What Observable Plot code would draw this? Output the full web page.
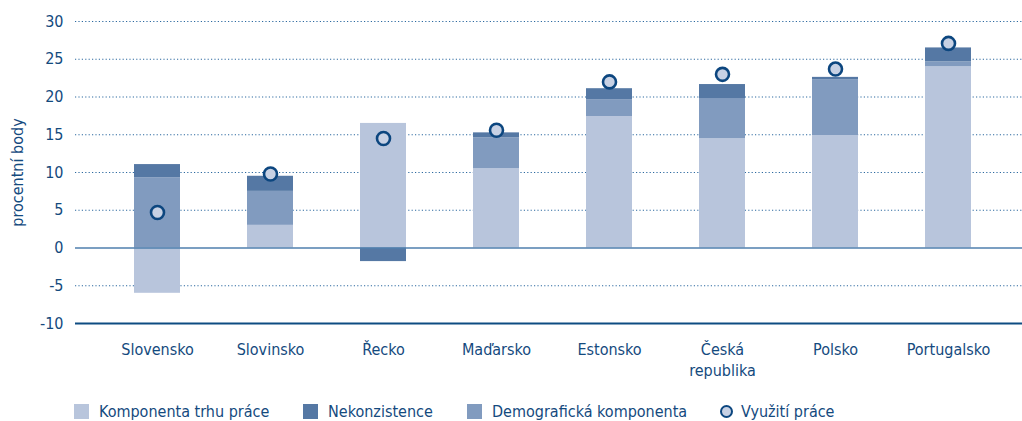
<!DOCTYPE html>
<html>
<head>
<meta charset="utf-8">
<script src="https://cdn.jsdelivr.net/npm/d3@7"></script>
<script src="https://cdn.jsdelivr.net/npm/@observablehq/plot@0.6"></script>
<style>
  html, body { margin: 0; padding: 0; background: #fff; }
  body { width: 1022px; height: 421px; overflow: hidden; font-family: "Liberation Sans Narrow", "DejaVu Sans Condensed", "Liberation Sans", sans-serif; }
  #legend { position: relative; height: 26px; width: 1022px; color: #144a7e; font-size: 16px; }
  .item { position: absolute; top: 3px; height: 26px; display: flex; align-items: center; white-space: nowrap; }
  .sw { width: 15px; height: 15px; margin-right: 10px; }
  .ci { width: 9px; height: 9px; border-radius: 50%; border: 2.5px solid #0c467f; background: #c7d1e4; margin-right: 8px; }
</style>
</head>
<body>
<div id="chart"></div>
<div id="legend"></div>
<script>
// ---- data ----
const countries = ["Slovensko", "Slovinsko", "Řecko", "Maďarsko", "Estonsko", "Česká\nrepublika", "Polsko", "Portugalsko"];
const seriesNames = ["Komponenta trhu práce", "Demografická komponenta", "Nekonzistence"];
const labourMarket = [-6.0, 3.0, 16.5, 10.5, 17.4, 14.5, 14.9, 24.0];
const demographic = [9.3, 4.5, 0.0, 4.1, 2.25, 5.3, 7.4, 0.65];
const inconsistency = [1.75, 2.0, -1.8, 0.65, 1.45, 1.85, 0.3, 1.85];
const labourUtilisation = [4.7, 9.8, 14.5, 15.6, 22.0, 23.0, 23.7, 27.1];
const dotName = "Využití práce";
const legendOrder = ["Komponenta trhu práce", "Nekonzistence", "Demografická komponenta", "Využití práce"];
const yTicks = [-10, -5, 0, 5, 10, 15, 20, 25, 30];
const yLabel = "procentní body";

// ---- styles ----
const seriesColors = ["#b8c5dc", "#819bbf", "#5578a4"];
const textColor = "#144a7e";
const fontFamily = '"Liberation Sans Narrow", "DejaVu Sans Condensed", "Liberation Sans", sans-serif';

const seriesValues = [labourMarket, demographic, inconsistency];
const long = [];
seriesNames.forEach((s, k) => countries.forEach((c, i) => long.push({country: c, series: s, value: seriesValues[k][i]})));
const dots = countries.map((c, i) => ({country: c, value: labourUtilisation[i]}));

const chart = Plot.plot({
  width: 1022,
  height: 395,
  marginLeft: 75,
  marginRight: 0,
  marginTop: 21,
  marginBottom: 72,
  style: {fontFamily, fontSize: "16px", color: textColor, background: "#fff"},
  x: {domain: countries, paddingInner: 0.5945, paddingOuter: 0.297, insetLeft: 23.3, insetRight: 16.3},
  y: {domain: [-10, 30]},
  color: {domain: seriesNames, range: seriesColors},
  marks: [
    Plot.ruleY(yTicks.filter(d => d !== 0 && d !== -10), {stroke: "#2d6aa0", strokeWidth: 1.2, strokeDasharray: "1.2,2.2"}),
    Plot.barY(long, {x: "country", y: "value", fill: "series", order: seriesNames}),
    Plot.ruleY([0], {stroke: "#4f7fae", strokeWidth: 1.3}),
    Plot.ruleY([-10], {stroke: "#0e4c82", strokeWidth: 2.2}),
    Plot.dot(dots, {x: "country", y: "value", r: 6.5, fill: "#c7d1e4", stroke: "#0c467f", strokeWidth: 2.6}),
    Plot.axisY({ticks: yTicks, tickFormat: d => String(d), tickSize: 0, tickPadding: 12, fontSize: 16, label: yLabel, labelAnchor: "center", labelArrow: "none", labelOffset: 64}),
    Plot.axisX({tickSize: 0, tickPadding: 17, fontSize: 16, label: null, lineHeight: 1.3})
  ]
});
document.getElementById("chart").appendChild(chart);

// ---- legend ----
const legendLeft = [74, 303, 467, 720];
const legend = document.getElementById("legend");
legendOrder.forEach((name, i) => {
  const item = document.createElement("div");
  item.className = "item";
  item.style.left = legendLeft[i] + "px";
  const sw = document.createElement("div");
  const k = seriesNames.indexOf(name);
  if (k >= 0) { sw.className = "sw"; sw.style.background = seriesColors[k]; }
  else { sw.className = "ci"; }
  item.appendChild(sw);
  const t = document.createElement("span");
  t.textContent = name;
  item.appendChild(t);
  legend.appendChild(item);
});
</script>
</body>
</html>
